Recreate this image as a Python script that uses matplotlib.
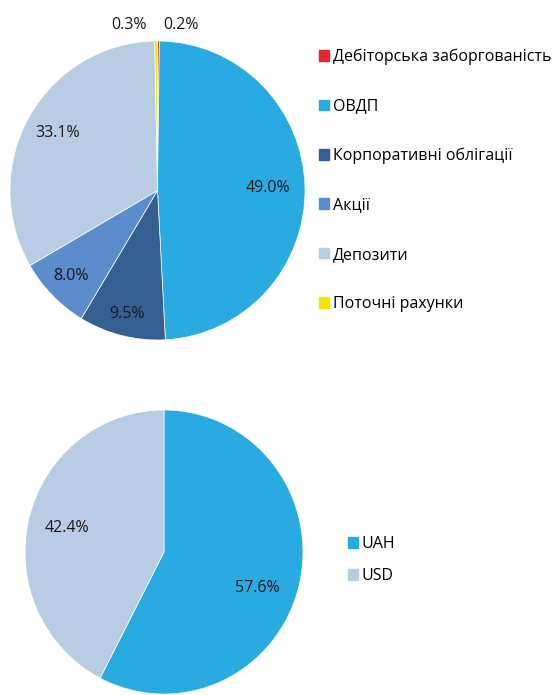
import numpy as np
import matplotlib.pyplot as plt
from matplotlib.patches import Patch

plt.rcParams['font.family'] = ['Open Sans', 'DejaVu Sans']

W, H = 557, 695

# структура активів
kategorii = ['Дебіторська заборгованість', 'ОВДП', 'Корпоративні облігації',
             'Акції', 'Депозити', 'Поточні рахунки']
czastki = [0.2, 49.0, 9.5, 8.0, 33.1, 0.3]
kolory = ['#E8262B', '#29ABE2', '#355F91', '#5B8CCB', '#B8CCE4', '#F2E500']

# валютна структура
waluty = ['UAH', 'USD']
czastki_wal = [57.6, 42.4]
kolory_wal = ['#29ABE2', '#B8CCE4']

FS = 11.5


def osi(x0, x1, y0, y1):
    return fig.add_axes([x0 / W, (H - y1) / H, (x1 - x0) / W, (y1 - y0) / H])


def przesun(wedge, tekst, r):
    kat = np.deg2rad((wedge.theta1 + wedge.theta2) / 2)
    tekst.set_position((r * np.cos(kat), r * np.sin(kat)))


fig = plt.figure(figsize=(W / 100, H / 100), dpi=100)

ax1 = osi(10, 305, 41, 340)
wedges, teksty, procenty = ax1.pie(czastki, colors=kolory, startangle=90, counterclock=False,
                                   autopct='%1.1f%%', pctdistance=0.78,
                                   wedgeprops=dict(edgecolor='white', linewidth=0.5),
                                   textprops=dict(fontsize=FS, color='#1a1a1a'))
for w, t, r in zip(wedges[1:5], procenty[1:5], [0.75, 0.85, 0.82, 0.78]):
    przesun(w, t, r)
# małe wycinki - etykiety nad kołem
procenty[0].set_position((0.16, 1.11))
procenty[5].set_position((-0.19, 1.11))
for t in procenty:
    t.set_clip_on(False)
ax1.set_aspect('auto')
ax1.set_xlim(-1, 1)
ax1.set_ylim(-1, 1)

fig.legend([Patch(color=c) for c in kolory], kategorii, loc='upper left',
           bbox_to_anchor=(319 / W, 1 - 49 / H), frameon=False, fontsize=FS,
           labelspacing=2.08, handlelength=0.65, handleheight=0.65, handletextpad=0.2,
           borderaxespad=0, borderpad=0)

ax2 = osi(25, 303, 410, 694)
w2, t2, p2 = ax2.pie(czastki_wal, colors=kolory_wal, startangle=90, counterclock=False,
                     autopct='%1.1f%%', pctdistance=0.72,
                     wedgeprops=dict(edgecolor='white', linewidth=0.5),
                     textprops=dict(fontsize=FS, color='#1a1a1a'))
p2[0].set_position((0.67, -0.25))
ax2.set_aspect('auto')
ax2.set_xlim(-1, 1)
ax2.set_ylim(-1, 1)

fig.legend([Patch(color=c) for c in kolory_wal], waluty, loc='upper left',
           bbox_to_anchor=(348 / W, 1 - 536 / H), frameon=False, fontsize=FS,
           labelspacing=1.0, handlelength=0.65, handleheight=0.65, handletextpad=0.2,
           borderaxespad=0, borderpad=0)

plt.savefig('out.png', dpi=100)
